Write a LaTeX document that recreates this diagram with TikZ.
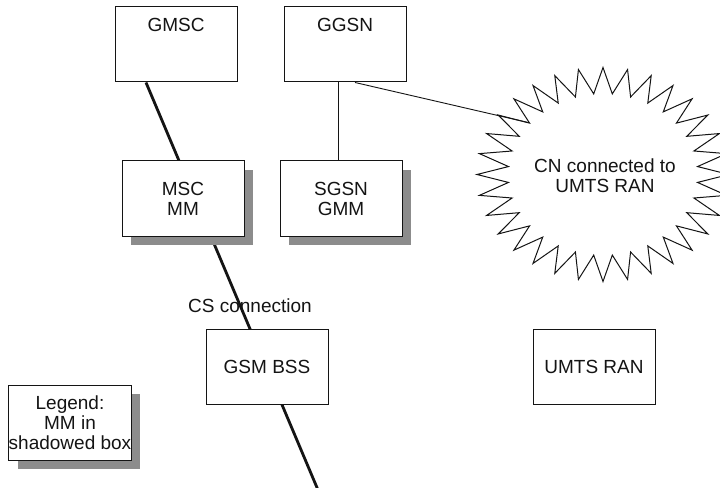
\documentclass[tikz,border=0pt]{standalone}
\usepackage{fontspec}
\setmainfont{Liberation Sans}
\usetikzlibrary{shadows,calc,backgrounds}
\definecolor{shgray}{RGB}{140,140,140}
\definecolor{ink}{RGB}{20,20,20}
\tikzset{
  every node/.style={font=\fontsize{19bp}{20bp}\selectfont, text=ink},
  box/.style={draw=ink, line width=1bp, fill=white, minimum width=122bp, minimum height=75bp, inner sep=0pt, align=center},
  shbox/.style={box, drop shadow={shadow xshift=9bp, shadow yshift=-9bp, fill=shgray, opacity=1}},
  thinline/.style={draw=ink, line width=0.9bp},
  thickline/.style={draw=ink, line width=2.8bp},
  burst/.style={draw=ink, line width=1bp, fill=white, line join=miter, miter limit=20}
}
\begin{document}
\begin{tikzpicture}[x=1bp, y=-1bp]
\useasboundingbox (0,0) rectangle (720,488);

% coordinates
\coordinate (csend) at (318,490);
\coordinate (cnv) at (528.6,122.6);

% top boxes
\node[box] (gmsc) at (176,44.5) {};
\node[box] (ggsn) at (345,44.5) {};
\node[anchor=base] (gmsct) at ($(gmsc.north)+(0,25)$) {GMSC};
\node[anchor=base] (ggsnt) at ($(ggsn.north)+(0,25)$) {GGSN};

% starburst
\draw[burst] plot[samples at={0,...,63}, variable=\i]
  ({603+ifthenelse(mod(\i,2)==0,126,95)*cos(\i*5.625)},
   {174.5+ifthenelse(mod(\i,2)==0,107,81)*sin(\i*5.625)}) -- cycle;
\node[align=center] (cn) at (605,175.5) {CN connected to\\UMTS RAN};

% shadowed boxes
\node[shbox] (msc) at (183,198.5) {MSC\\MM};
\node[shbox] (sgsn) at (341,198.5) {SGSN\\GMM};
\node[shbox] (legend) at (70,422.5) {Legend:\\MM in\\shadowed box};

% plain boxes
\node[box] (gsmbss) at (267,366.5) {GSM BSS};
\node[box] (umts) at (594,366.5) {UMTS RAN};

% thin connectors
\draw[thinline] ($(ggsn.south)+(-7,0)$) -- ($(sgsn.north)+(-3,0)$);
\draw[thinline] ($(ggsn.south)+(10,0)$) -- (cnv);

% label
\node[anchor=base] (cslabel) at (250,312) {CS connection};

\begin{pgfonlayer}{background}
\fill[white] (0,0) rectangle (720,488);
\draw[thickline] ($(gmsc.south)+(-30,0)$) -- (csend);
\end{pgfonlayer}
\end{tikzpicture}
\end{document}
